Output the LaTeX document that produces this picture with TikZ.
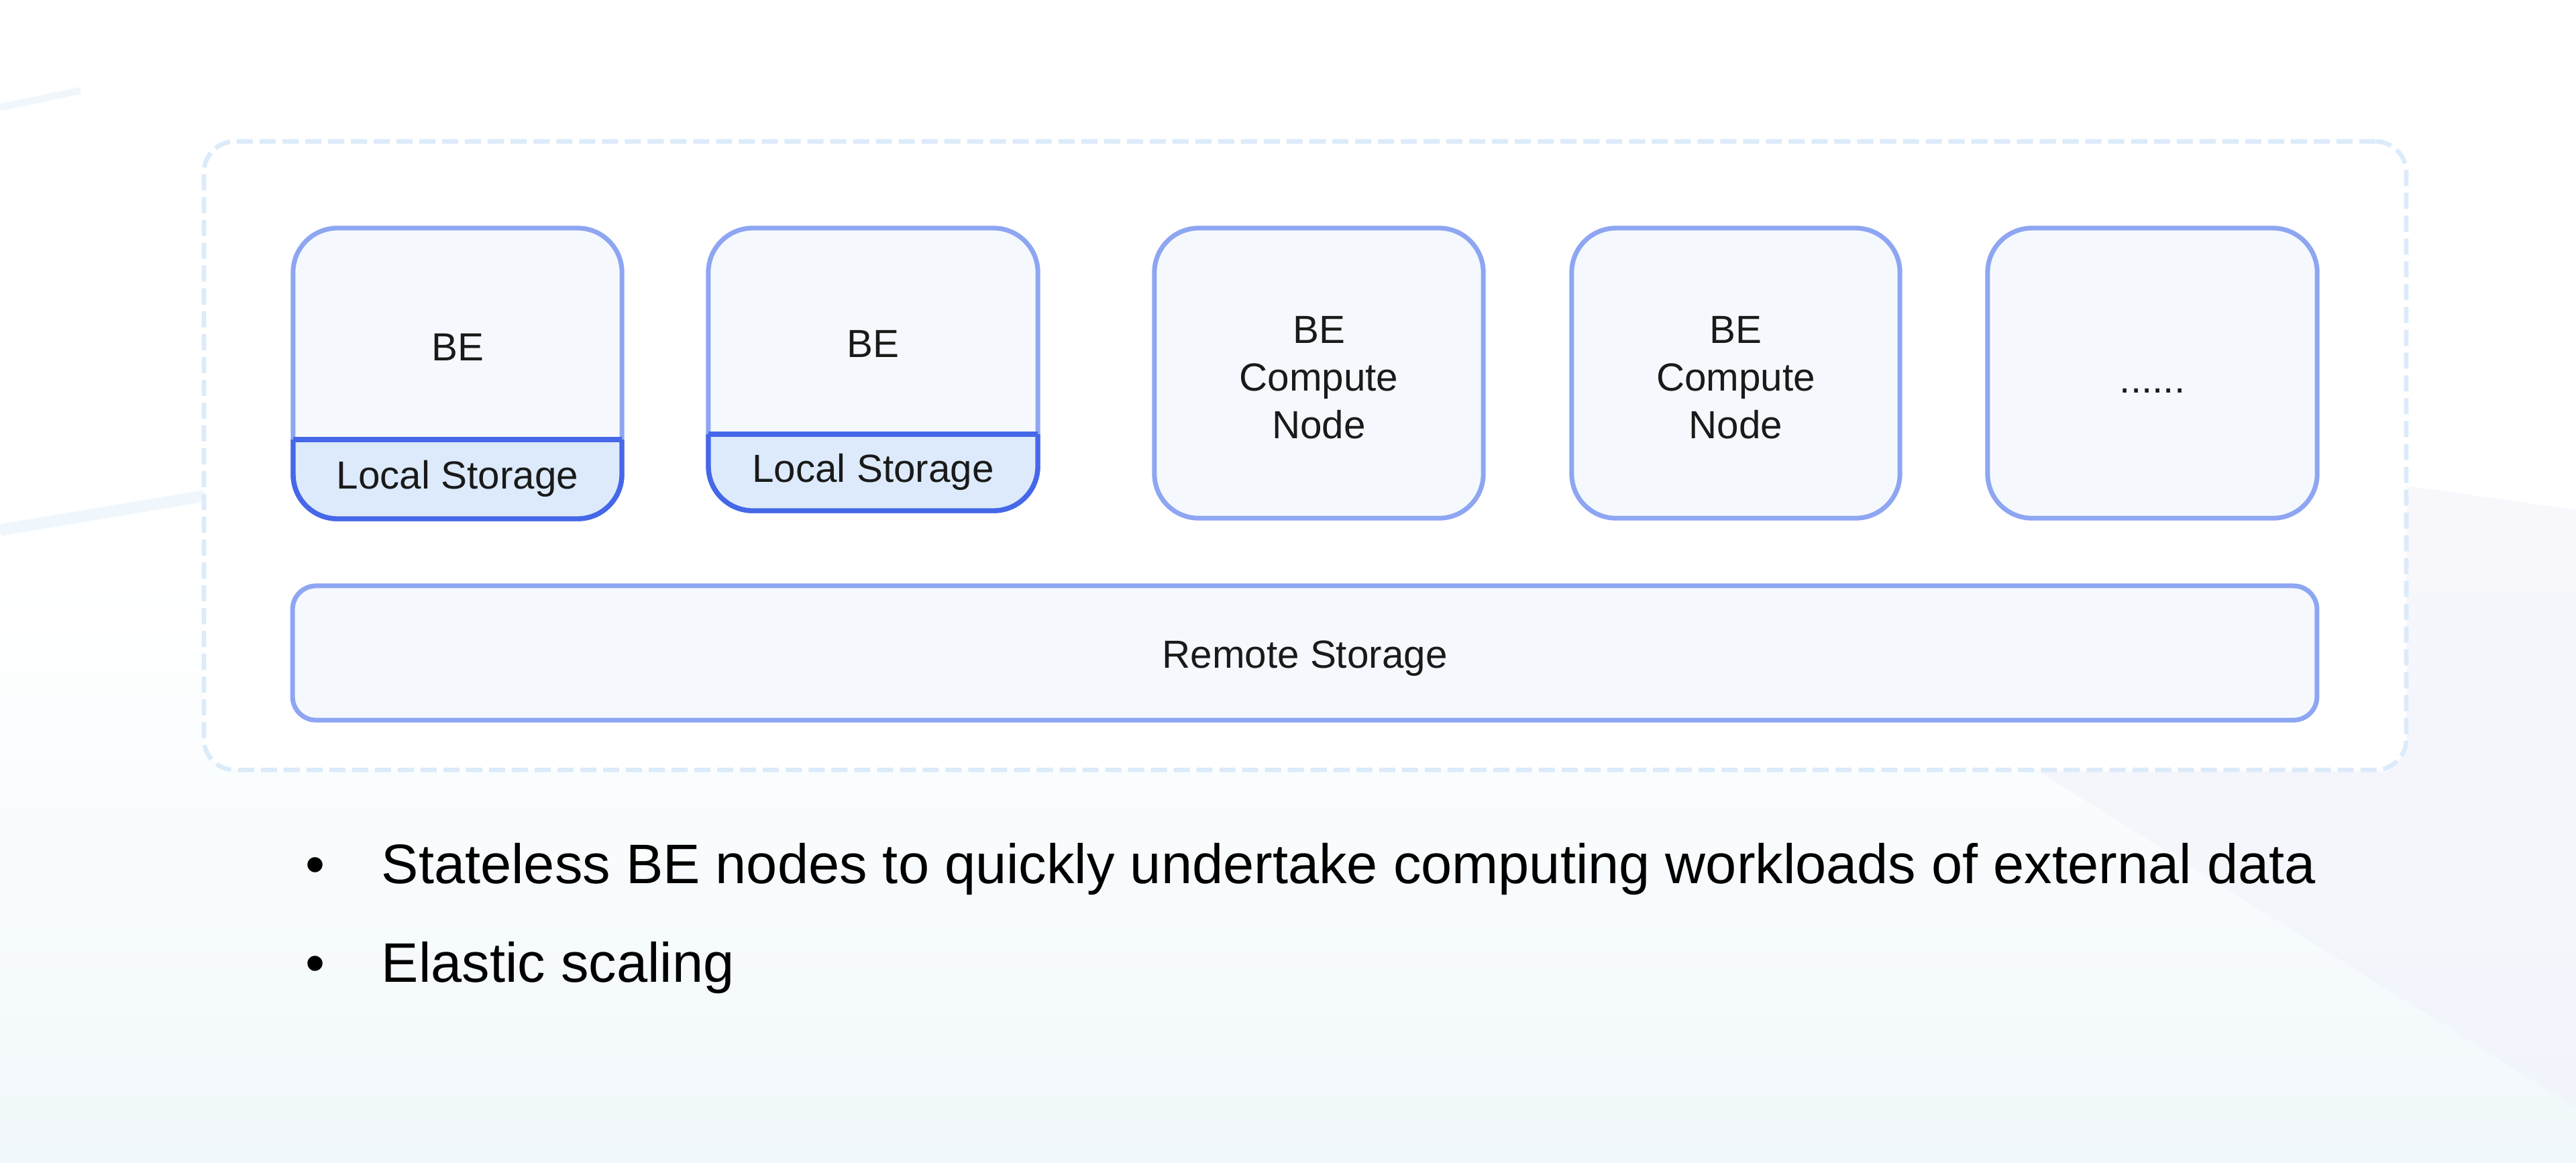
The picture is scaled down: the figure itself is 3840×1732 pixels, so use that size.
\documentclass[tikz,border=0pt]{standalone}
\usepackage{fontspec}
\setmainfont{Liberation Sans}
\begin{document}
\definecolor{lightb}{HTML}{8EA6F2}
\definecolor{darkb}{HTML}{4567E8}
\definecolor{boxfill}{HTML}{F5F9FE}
\definecolor{lsfill}{HTML}{DCEAFB}
\definecolor{dashc}{HTML}{DCEBFA}
\definecolor{bgb}{HTML}{F1F8FB}
\definecolor{lav}{HTML}{F1F2FB}
\definecolor{streak}{HTML}{F0F7FC}
\definecolor{txt}{HTML}{1A1A1A}
\begin{tikzpicture}[x=0.01cm,y=-0.01cm,
  nodebox/.style={draw=lightb, fill=boxfill, line width=2pt, rounded corners=0.66cm, inner sep=0pt, outer sep=0pt},
  lsbox/.style={draw=darkb, fill=lsfill, line width=2.1pt, rounded corners=0.66cm},
  lbl/.style={anchor=base, inner sep=0pt, text=txt, font=\fontsize{16.6pt}{20pt}\selectfont},
  bul/.style={anchor=base west, inner sep=0pt, text=black, font=\fontsize{23.6pt}{28pt}\selectfont},
  outerbox/.style={draw=dashc, fill=white, line width=1.9pt, rounded corners=0.46cm, dash pattern=on 0.24cm off 0.10cm, inner sep=0pt}]
\useasboundingbox (0,0) rectangle (3840,1732);
% background
\fill[white] (0,0) rectangle (3840,1732);
\shade[top color=white, bottom color=bgb] (0,850) rectangle (3840,1732);
\fill[lav, opacity=0.55] (3040,1150) -- (3840,1650) -- (3840,760) -- (3560,720) -- (3560,1150) -- cycle;
\draw[streak, line width=5pt] (0,790) -- (310,738);
\draw[streak, line width=3pt] (0,160) -- (120,135);
% outer dashed container
\node[outerbox, minimum width=32.81cm, minimum height=9.36cm] (outer) at (1945.5,679) {};
% BE nodes
\node[nodebox, minimum width=4.90cm, minimum height=4.33cm] (be1) at (682,556.5) {};
\node[nodebox, minimum width=4.91cm, minimum height=4.21cm] (be2) at (1301.5,550.5) {};
\node[nodebox, minimum width=4.90cm, minimum height=4.32cm] (cn1) at (1966,556) {};
\node[nodebox, minimum width=4.89cm, minimum height=4.32cm] (cn2) at (2587.5,556) {};
\node[nodebox, minimum width=4.91cm, minimum height=4.32cm] (more) at (3208.5,556) {};
% local storage parts
\begin{scope}
  \clip (400,655) rectangle (960,800);
  \draw[lsbox] (437,340) rectangle (927,773);
\end{scope}
\draw[darkb, line width=2.1pt] (437,655) -- (927,655);
\begin{scope}
  \clip (1020,647) rectangle (1590,800);
  \draw[lsbox] (1056,340) rectangle (1547,761);
\end{scope}
\draw[darkb, line width=2.1pt] (1056,647) -- (1547,647);
% remote storage
\node[nodebox, rounded corners=0.35cm, minimum width=30.16cm, minimum height=2.00cm] (remote) at (1945,973) {};
% labels
\node[lbl] (be1t) at (682,537) {BE};
\node[lbl] (ls1t) at (682,728) {Local Storage};
\node[lbl] (be2t) at (1301.5,532) {BE};
\node[lbl] (ls2t) at (1301.5,718) {Local Storage};
\node[lbl] (cn1a) at (1966,511) {BE};
\node[lbl] (cn1b) at (1966,582) {Compute};
\node[lbl] (cn1c) at (1966,653) {Node};
\node[lbl] (cn2a) at (2587.5,511) {BE};
\node[lbl] (cn2b) at (2587.5,582) {Compute};
\node[lbl] (cn2c) at (2587.5,653) {Node};
\node[lbl] (moret) at (3208.5,585) {......};
\node[lbl] (remotet) at (1945,995) {Remote Storage};
% bullets
\node[bul, anchor=base] (d1) at (470,1316) {•};
\node[bul] (t1) at (568,1316) {Stateless BE nodes to quickly undertake computing workloads of external data};
\node[bul, anchor=base] (d2) at (470,1463) {•};
\node[bul] (t2) at (568,1463) {Elastic scaling};
\end{tikzpicture}
\end{document}
